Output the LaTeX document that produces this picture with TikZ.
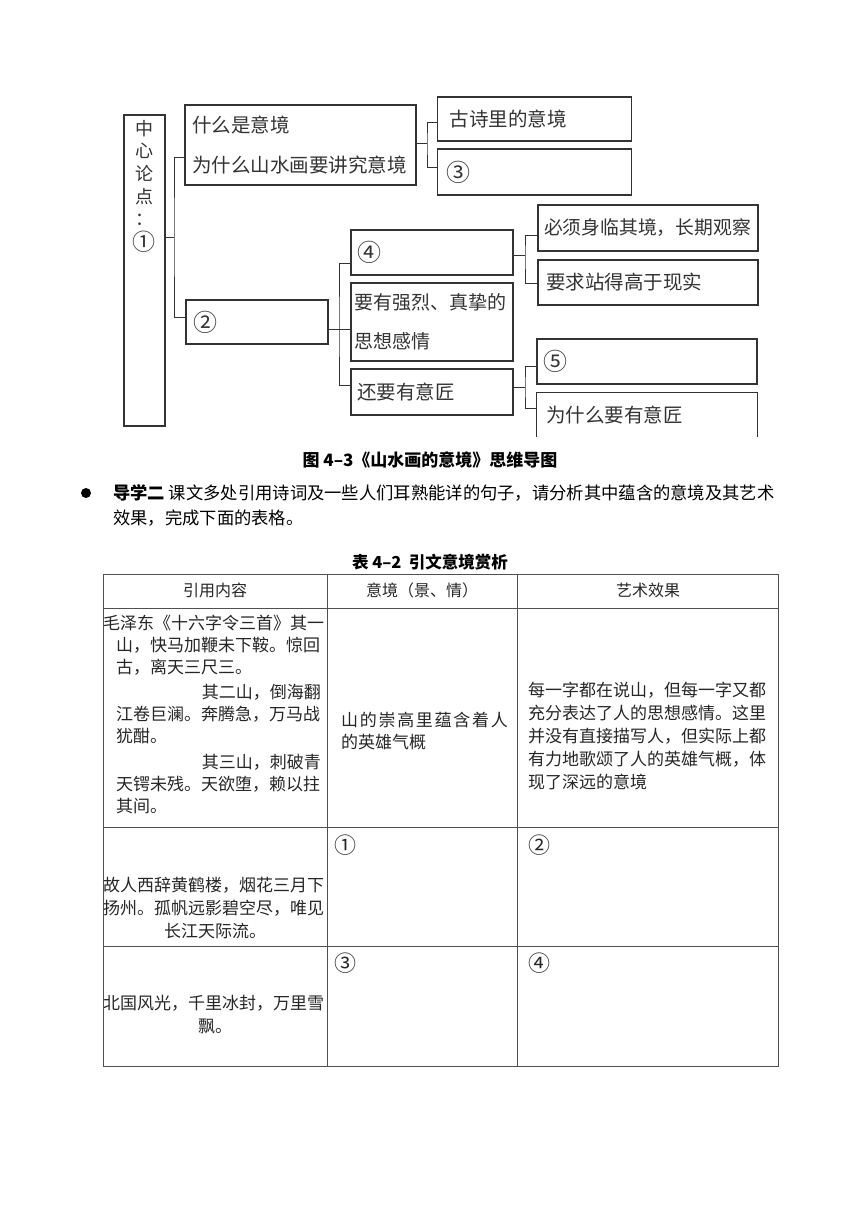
\documentclass[tikz,border=0pt]{standalone}
\usepackage{fontspec}
\setmainfont{Noto Sans CJK SC}
\newfontfamily\cjk{Noto Sans CJK SC}
\definecolor{scan}{HTML}{333333}
\definecolor{tline}{HTML}{505050}
\newcommand{\bignum}[1]{{\fontsize{24}{24}\selectfont #1}}
\begin{document}
\begin{tikzpicture}[x=1pt,y=-1pt,
  hbox/.style={draw=scan, line width=1.1pt, inner xsep=8pt, inner ysep=0pt, align=left,
    font=\fontsize{19.5}{40}\selectfont, text=scan},
  conn/.style={draw=scan, line width=1pt},
  hw/.style={text=scan, inner sep=0pt},
  cell/.style={inner sep=0pt, font=\fontsize{17}{23}\selectfont, text=black!85},
  num/.style={inner sep=0pt, font=\fontsize{22}{23}\selectfont, text=black!85},
  hdr/.style={inner sep=0pt, font=\fontsize{16}{20}\selectfont, text=black!85},
  tl/.style={draw=tline, line width=0.8pt}
]
\useasboundingbox[fill=white] (0,0) rectangle (860,1216);

% ---------- mind map ----------
\node[draw=scan, line width=1.1pt, minimum width=41pt, minimum height=311pt, inner sep=0pt] (root) at (144.5,270.5) {};
\node[hw, anchor=north, align=center, font=\fontsize{18}{22.6}\selectfont] (roottext) at (144,120) {中\\心\\论\\点\\：\\[2pt]{\fontsize{23}{23}\selectfont ①}};

\node[hbox, minimum width=231pt, minimum height=80pt, text width=217pt, inner xsep=7pt] (b1) at (300.5,145) {什么是意境\\为什么山水画要讲究意境};
\node[hbox, minimum width=191pt, minimum height=44pt, text width=170pt, inner xsep=12pt] (b11) at (534.5,119) {古诗里的意境};
\node[hbox, minimum width=191pt, minimum height=46pt, text width=176pt, inner xsep=9pt] (b12) at (534.5,172) {\bignum{③}};

\node[hbox, minimum width=142pt, minimum height=44pt, text width=128pt, inner xsep=7pt] (b2) at (257,322) {\bignum{②}};
\node[hbox, minimum width=162pt, minimum height=45pt, text width=150pt, inner xsep=6pt] (b21) at (432,252.5) {\bignum{④}};
\node[hbox, minimum width=162pt, minimum height=78pt, text width=156pt, inner xsep=3pt, font=\fontsize{19}{39}\selectfont] (b22) at (432,322) {要有强烈、真挚的\\思想感情};
\node[hbox, minimum width=162pt, minimum height=46pt, text width=150pt, inner xsep=6pt] (b23) at (432,392) {还要有意匠};

\node[hbox, minimum width=220pt, minimum height=46pt, text width=208pt, inner xsep=6pt, font=\fontsize{18.8}{30}\selectfont] (b211) at (648,228) {必须身临其境，长期观察};
\node[hbox, minimum width=220pt, minimum height=45pt, text width=204pt] (b212) at (648,282.5) {要求站得高于现实};
\node[hbox, minimum width=220pt, minimum height=45pt, text width=208pt, inner xsep=6pt] (b231) at (647,361.5) {\bignum{⑤}};
\node[hbox, draw=none, minimum width=220pt, minimum height=43pt, text width=202pt, inner xsep=9pt] (b232) at (647,414.5) {为什么要有意匠};
\draw[conn, line width=1.1pt] (b232.south west) -- (b232.north west) -- (b232.north east) -- (b232.south east);

\coordinate (ja) at (174,237);
\draw[conn] (root.east |- ja) -- (ja);
\draw[conn] (b1.west |- 0,157) -| (ja) |- (b2.west |- 0,317);
\coordinate (jb) at (427,143);
\draw[conn] (b1.east |- jb) -- (jb);
\draw[conn] (b11.west |- 0,122) -| (jb) |- (b12.west |- 0,167);
\coordinate (jc) at (339,329);
\draw[conn] (b2.east |- jc) -- (b22.west |- jc);
\draw[conn] (b21.west |- 0,263) -| (jc) |- (b23.west |- 0,385);
\coordinate (jd) at (525,255);
\draw[conn] (b21.east |- jd) -- (jd);
\draw[conn] (b211.west |- 0,235) -| (jd) |- (b212.west |- 0,283);
\coordinate (je) at (525,387);
\draw[conn] (b23.east |- je) -- (je);
\draw[conn] (b231.west |- 0,366) -| (je) |- (b232.west |- 0,408);

% ---------- caption & text ----------
\node[inner sep=0pt, font=\fontsize{17}{20}\selectfont\bfseries] (cap) at (430,460) {图 4–3《山水画的意境》思维导图};
\fill (86,493) circle (5pt);
\node[inner sep=0pt, anchor=west, font=\fontsize{17.3}{20}\selectfont] (p1) at (113,493) {{\bfseries 导学二}\ 课文多处引用诗词及一些人们耳熟能详的句子，请分析其中蕴含的意境及其艺术};
\node[inner sep=0pt, anchor=west, font=\fontsize{17.3}{20}\selectfont] (p2) at (113,518) {效果，完成下面的表格。};
\node[inner sep=0pt, font=\fontsize{16.5}{20}\selectfont\bfseries] (ttl) at (430,562) {表 4–2 \ 引文意境赏析};

% ---------- table ----------
\draw[tl] (103,574) rectangle (778,1066);
\foreach \yy in {608,827,946} \draw[tl] (103,\yy) -- (778,\yy);
\foreach \xx in {327,517} \draw[tl] (\xx,574) -- (\xx,1066);

\node[hdr] (h1) at (215,590) {引用内容};
\node[hdr] (h2) at (422,590) {意境（景、情）};
\node[hdr] (h3) at (648,590) {艺术效果};

\node[cell, anchor=west] (r1a) at (103,623) {毛泽东《十六字令三首》其一};
\node[cell, anchor=west] (r1b) at (116,645) {山，快马加鞭未下鞍。惊回};
\node[cell, anchor=west] (r1c) at (116,667) {古，离天三尺三。};
\node[cell, anchor=east] (r1d) at (321,692) {其二山，倒海翻};
\node[cell, anchor=west] (r1e) at (116,714) {江卷巨澜。奔腾急，万马战};
\node[cell, anchor=west] (r1f) at (116,736) {犹酣。};
\node[cell, anchor=east] (r1g) at (321,762) {其三山，刺破青};
\node[cell, anchor=west] (r1h) at (116,784) {天锷未残。天欲堕，赖以拄};
\node[cell, anchor=west] (r1i) at (116,806) {其间。};

\node[cell, anchor=west, font=\fontsize{17}{23}\selectfont\addfontfeature{LetterSpace=10}] (r1m1) at (341,720) {山的崇高里蕴含着人};
\node[cell, anchor=west] (r1m2) at (341,742) {的英雄气概};

\node[cell, anchor=west, align=left, font=\fontsize{17}{23}\selectfont] (r1r) at (528,736) {每一字都在说山，但每一字又都\\充分表达了人的思想感情。这里\\并没有直接描写人，但实际上都\\有力地歌颂了人的英雄气概，体\\现了深远的意境};

\node[num] (c1) at (345,845) {①};
\node[num] (c2) at (539,845) {②};
\node[cell, anchor=west] (r2a) at (103,885) {故人西辞黄鹤楼，烟花三月下};
\node[cell, anchor=west] (r2b) at (103,908) {扬州。孤帆远影碧空尽，唯见};
\node[cell] (r2c) at (215,931) {长江天际流。};

\node[num] (c3) at (345,963) {③};
\node[num] (c4) at (539,963) {④};
\node[cell, anchor=west] (r3a) at (103,1003) {北国风光，千里冰封，万里雪};
\node[cell] (r3b) at (215,1026) {飘。};
\end{tikzpicture}
\end{document}
